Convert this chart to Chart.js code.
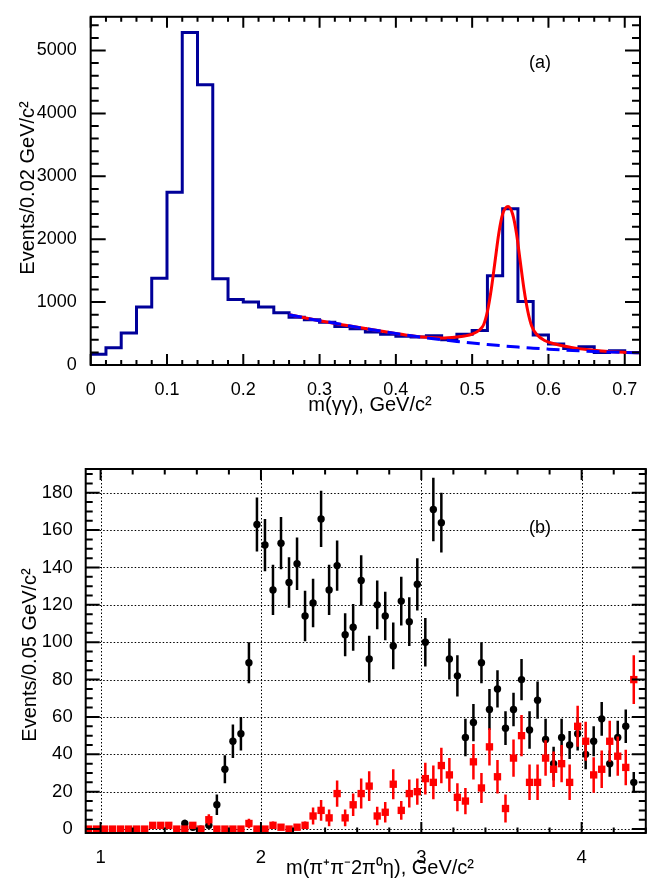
<!DOCTYPE html>
<html>
<head>
<meta charset="utf-8">
<script src="https://cdn.jsdelivr.net/npm/chart.js@4.4.1/dist/chart.umd.min.js"></script>
<style>
  html, body { margin: 0; padding: 0; background: #fff; }
  #wrap { position: relative; width: 651px; height: 884px; }
  canvas { position: absolute; left: 0; }
</style>
</head>
<body>
<div id="wrap">
  <canvas id="ggChart" width="651" height="440" style="top:0"></canvas>
  <canvas id="fullChart" width="651" height="444" style="top:440px"></canvas>
</div>
<script>
// ---- (a) m(gamma gamma) histogram ----
const binEdges = [0, 0.02, 0.04, 0.06, 0.08, 0.10, 0.12, 0.14, 0.16, 0.18, 0.20, 0.22, 0.24,
  0.26, 0.28, 0.30, 0.32, 0.34, 0.36, 0.38, 0.40, 0.42, 0.44, 0.46, 0.48, 0.50,
  0.52, 0.54, 0.56, 0.58, 0.60, 0.62, 0.64, 0.66, 0.68, 0.70, 0.72];
const ggCounts = [170, 275, 508, 922, 1378, 2746, 5285, 4456, 1373, 1041, 1000, 922,
  829, 760, 720, 679, 611, 575, 523, 487, 456, 446, 466, 400, 487, 549,
  1420, 2485, 1010, 475, 332, 264, 290, 197, 228, 197];
const ggXTicks = [0, 0.1, 0.2, 0.3, 0.4, 0.5, 0.6, 0.7];
const ggYTicks = [0, 1000, 2000, 3000, 4000, 5000];

// fit curve (signal + background) and background only
const fitX = [0.26, 0.30, 0.34, 0.38, 0.42, 0.44, 0.46, 0.48, 0.49, 0.50, 0.51, 0.515, 0.52,
  0.525, 0.53, 0.535, 0.54, 0.547, 0.553, 0.558, 0.563, 0.568, 0.573, 0.578, 0.585,
  0.595, 0.61, 0.63, 0.65, 0.67, 0.69, 0.72];
const fitY = [800, 705, 620, 540, 465, 440, 430, 445, 460, 490, 560, 640, 850,
  1200, 1650, 2100, 2400, 2520, 2400, 2100, 1650, 1200, 850, 620, 480,
  390, 330, 280, 245, 222, 208, 196];
const bkgX = [0.26, 0.28, 0.30, 0.32, 0.34, 0.36, 0.38, 0.40, 0.42, 0.44, 0.46, 0.48, 0.50,
  0.52, 0.54, 0.56, 0.58, 0.60, 0.62, 0.64, 0.66, 0.68, 0.70, 0.72];
const bkgY = [800, 750, 705, 665, 620, 578, 540, 500, 465, 432, 402, 375, 350,
  326, 305, 285, 268, 252, 238, 226, 215, 206, 199, 193];

// ---- (b) m(pi+ pi- 2pi0 eta) ----
const blackMass = [1.525, 1.575, 1.625, 1.675, 1.725, 1.775, 1.825, 1.875, 1.925, 1.975,
  2.025, 2.075, 2.125, 2.175, 2.225, 2.275, 2.325, 2.375, 2.425, 2.475,
  2.525, 2.575, 2.625, 2.675, 2.725, 2.775, 2.825, 2.875, 2.925, 2.975,
  3.025, 3.075, 3.125, 3.175, 3.225, 3.275, 3.325, 3.375, 3.425, 3.475,
  3.525, 3.575, 3.625, 3.675, 3.725, 3.775, 3.825, 3.875, 3.925, 3.975,
  4.025, 4.075, 4.125, 4.175, 4.225, 4.275, 4.325];
const blackEvents = [3, 1, 0, 2, 13, 32, 47, 51, 89, 163,
  152, 128, 153, 132, 142, 114, 121, 166, 128, 141,
  104, 108, 133, 91, 120, 114, 98, 122, 111, 131,
  100, 171, 164, 91, 82, 49, 57, 89, 64, 75,
  54, 64, 80, 53, 69, 48, 35, 49, 45, 51,
  40, 47, 59, 35, 49, 55, 25];
const blackErr = [2, 1, 0, 1.5, 5.5, 7.5, 9, 9, 11, 14.5,
  14, 13.5, 14, 13.5, 14, 13.5, 13, 15, 13.5, 13.5,
  11.5, 12.5, 13.5, 12.5, 13, 13, 12.5, 13, 13, 14,
  13, 17, 16, 11, 11, 10, 10, 11, 11, 10,
  9, 9, 11, 10, 10, 11, 9, 10, 7.5, 9,
  8, 8, 9, 7, 9, 9, 5.5];

const redMass = [0.925, 0.975, 1.025, 1.075, 1.125, 1.175, 1.225, 1.275, 1.325, 1.375,
  1.425, 1.475, 1.525, 1.575, 1.625, 1.675, 1.725, 1.775, 1.825, 1.875,
  1.925, 1.975, 2.025, 2.075, 2.125, 2.175, 2.225, 2.275, 2.325, 2.375,
  2.425, 2.475, 2.525, 2.575, 2.625, 2.675, 2.725, 2.775, 2.825, 2.875,
  2.925, 2.975, 3.025, 3.075, 3.125, 3.175, 3.225, 3.275, 3.325, 3.375,
  3.425, 3.475, 3.525, 3.575, 3.625, 3.675, 3.725, 3.775, 3.825, 3.875,
  3.925, 3.975, 4.025, 4.075, 4.125, 4.175, 4.225, 4.275, 4.325];
const redEvents = [0, 0, 0, 0, 0, 0, 0, 0, 2, 2,
  2, 0, 0, 2, 0, 5, 0, 0, 0, 0,
  3, 0, 0, 2, 1, 0, 1, 2, 7, 10,
  6, 19, 6, 13, 19, 23, 7, 9, 24, 10,
  19, 20, 27, 25, 34, 29, 17, 15, 36, 22,
  44, 28, 11, 38, 50, 25, 25, 38, 32, 35,
  25, 55, 47, 29, 32, 47, 39, 33, 80];
const redErr = [0, 0, 0, 0, 0, 0, 0, 0, 1.5, 1.5,
  1.5, 0, 0, 1.5, 0, 3, 0, 0, 0, 0,
  2.5, 0, 0, 2, 1, 0, 1, 2, 4.5, 5.5,
  4.5, 7, 4.5, 6, 8, 8, 5, 5.5, 8, 5,
  7.5, 7, 8.5, 9, 9.5, 9, 7.5, 7, 9.5, 8,
  10, 9, 7.5, 10, 11, 9.5, 9.5, 9.5, 9.5, 10,
  9.5, 11, 10.5, 9.5, 10, 11, 10.5, 9.5, 13];
const fullXTicks = [1, 2, 3, 4];
const fullYTicks = [0, 20, 40, 60, 80, 100, 120, 140, 160, 180];

const FONT = '"Liberation Sans", Arial, Helvetica, sans-serif';
Chart.defaults.font.family = FONT;
Chart.defaults.color = '#000';

// frame with inward ticks on all four sides (ROOT style), optional dotted grid
function framePlugin(cfg) {
  function positions(scale, minor, major) {
    const out = [];
    const i0 = Math.ceil(scale.min / minor - 1e-9), i1 = Math.floor(scale.max / minor + 1e-9);
    for (let i = i0; i <= i1; i++) {
      const v = i * minor;
      const isMajor = Math.abs(v / major - Math.round(v / major)) < 1e-6;
      out.push({ p: scale.getPixelForValue(v), major: isMajor });
    }
    return out;
  }
  return {
    id: 'frame',
    beforeDatasetsDraw(chart) {
      if (!cfg.grid) return;
      const { ctx, chartArea: a, scales: { x, y } } = chart;
      ctx.save();
      ctx.strokeStyle = '#000';
      ctx.lineWidth = 1;
      ctx.setLineDash([1.5, 2]);
      x.ticks.forEach(t => {
        const p = Math.round(x.getPixelForValue(t.value)) + 0.5;
        ctx.beginPath(); ctx.moveTo(p, a.top); ctx.lineTo(p, a.bottom); ctx.stroke();
      });
      y.ticks.forEach(t => {
        const p = Math.round(y.getPixelForValue(t.value)) + 0.5;
        ctx.beginPath(); ctx.moveTo(a.left, p); ctx.lineTo(a.right, p); ctx.stroke();
      });
      ctx.restore();
    },
    afterDraw(chart) {
      const { ctx, chartArea: a, scales: { x, y } } = chart;
      ctx.save();
      ctx.strokeStyle = '#000';
      ctx.lineWidth = 2;
      ctx.beginPath();
      positions(x, cfg.xMinor, cfg.xMajor).forEach(t => {
        const len = t.major ? cfg.xMajLen : cfg.xMinLen;
        ctx.moveTo(t.p, a.bottom); ctx.lineTo(t.p, a.bottom - len);
        ctx.moveTo(t.p, a.top); ctx.lineTo(t.p, a.top + len);
      });
      positions(y, cfg.yMinor, cfg.yMajor).forEach(t => {
        const len = t.major ? cfg.yMajLen : cfg.yMinLen;
        ctx.moveTo(a.left, t.p); ctx.lineTo(a.left + len, t.p);
        ctx.moveTo(a.right, t.p); ctx.lineTo(a.right - len, t.p);
      });
      ctx.stroke();
      ctx.strokeRect(a.left, a.top, a.right - a.left, a.bottom - a.top);
      ctx.restore();
    }
  };
}

// free text: axis titles and panel tags
function textPlugin(items) {
  return {
    id: 'texts',
    afterDraw(chart) {
      const ctx = chart.ctx;
      items.forEach(it => {
        ctx.save();
        ctx.translate(it.x, it.y);
        if (it.rotate) ctx.rotate(-Math.PI / 2);
        ctx.font = it.size + 'px ' + FONT;
        ctx.fillStyle = '#000';
        ctx.textAlign = 'center';
        ctx.textBaseline = 'middle';
        ctx.fillText(it.text, 0, 0);
        ctx.restore();
      });
    }
  };
}

// vertical error bars, drawn just before each dataset's markers
const errorBars = {
  id: 'errorBars',
  beforeDatasetDraw(chart, args) {
    const ds = chart.data.datasets[args.index];
    if (!ds.errors) return;
    const { ctx, chartArea: a, scales: { y } } = chart;
    ctx.save();
    ctx.beginPath();
    ctx.rect(a.left, a.top, a.right - a.left, a.bottom - a.top);
    ctx.clip();
    ctx.strokeStyle = ds.errorColor;
    ctx.lineWidth = 2.5;
    args.meta.data.forEach((pt, i) => {
      const e = ds.errors[i];
      if (!e) return;
      const v = ds.data[i].y;
      ctx.beginPath();
      ctx.moveTo(pt.x, y.getPixelForValue(v - e));
      ctx.lineTo(pt.x, y.getPixelForValue(v + e));
      ctx.stroke();
    });
    ctx.restore();
  }
};

function axis(min, max, tickVals, size, pad, fit) {
  return {
    type: 'linear', min: min, max: max,
    afterFit: fit,
    afterBuildTicks: s => { s.ticks = tickVals.map(v => ({ value: v })); },
    grid: { display: false }, border: { display: false },
    ticks: { color: '#000', font: { size: size }, padding: pad, maxRotation: 0, autoSkip: false,
      callback: v => String(+Number(v).toFixed(2)) }
  };
}

// ---------- chart (a) ----------
const histPoints = ggCounts.map((c, i) => ({ x: binEdges[i], y: c }));
histPoints.push({ x: binEdges[binEdges.length - 1], y: ggCounts[ggCounts.length - 1] });

new Chart(document.getElementById('ggChart'), {
  type: 'line',
  data: {
    datasets: [
      {
        label: 'background',
        data: bkgX.map((v, i) => ({ x: v, y: bkgY[i] })),
        borderColor: '#0000ff', borderWidth: 3, borderDash: [13, 7],
        pointRadius: 0, cubicInterpolationMode: 'monotone', fill: false
      },
      {
        label: 'fit',
        data: fitX.map((v, i) => ({ x: v, y: fitY[i] })),
        borderColor: '#ff0000', borderWidth: 3,
        pointRadius: 0, cubicInterpolationMode: 'monotone', fill: false
      },
      {
        label: 'data',
        data: histPoints,
        borderColor: '#000099', borderWidth: 3, stepped: true,
        pointRadius: 0, fill: false
      }
    ]
  },
  options: {
    responsive: false,
    animation: false,
    layout: { padding: { left: 0, right: 11, top: 10, bottom: 0 } },
    plugins: { legend: { display: false }, tooltip: { enabled: false } },
    scales: {
      x: axis(0, 0.72, ggXTicks, 18, 6, s => { s.height = 75; }),
      y: axis(0, 5536, ggYTicks, 18, 6, s => { s.width = 90.7; })
    }
  },
  plugins: [
    framePlugin({ grid: false, xMinor: 0.02, xMajor: 0.1, yMinor: 200, yMajor: 1000,
      xMajLen: 11, xMinLen: 5, yMajLen: 15, yMinLen: 8 }),
    textPlugin([
      { text: 'Events/0.02 GeV/c²', x: 28, y: 188, size: 20, rotate: true },
      { text: 'm(γγ), GeV/c²', x: 370, y: 405, size: 20 },
      { text: '(a)', x: 540, y: 63, size: 18 }
    ])
  ]
});

// ---------- chart (b) ----------
new Chart(document.getElementById('fullChart'), {
  type: 'scatter',
  data: {
    datasets: [
      {
        label: 'red',
        data: redMass.map((m, i) => ({ x: m, y: redEvents[i] })),
        errors: redErr, errorColor: '#ff0000',
        pointStyle: 'rect', pointRadius: 5.2,
        backgroundColor: '#ff0000', borderColor: '#ff0000', borderWidth: 0
      },
      {
        label: 'black',
        data: blackMass.map((m, i) => ({ x: m, y: blackEvents[i] })),
        errors: blackErr, errorColor: '#000000',
        pointStyle: 'circle', pointRadius: 3.7,
        backgroundColor: '#000', borderColor: '#000', borderWidth: 0
      }
    ]
  },
  options: {
    responsive: false,
    animation: false,
    clip: false,
    layout: { padding: { left: 0, right: 5, top: 29, bottom: 0 } },
    plugins: { legend: { display: false }, tooltip: { enabled: false } },
    scales: {
      x: axis(0.907, 4.4, fullXTicks, 18.5, 6, s => { s.height = 51; }),
      y: axis(-2.1, 192.7, fullYTicks, 18.5, 5, s => { s.width = 85.7; })
    }
  },
  plugins: [
    errorBars,
    framePlugin({ grid: true, xMinor: 0.2, xMajor: 1, yMinor: 5, yMajor: 20,
      xMajLen: 11, xMinLen: 5.5, yMajLen: 14, yMinLen: 7 }),
    textPlugin([
      { text: 'Events/0.05 GeV/c²', x: 30, y: 215, size: 20, rotate: true },
      { text: 'm(π⁺π⁻2π⁰η), GeV/c²', x: 380, y: 428, size: 20 },
      { text: '(b)', x: 540, y: 88, size: 18 }
    ])
  ]
});
</script>
</body>
</html>
